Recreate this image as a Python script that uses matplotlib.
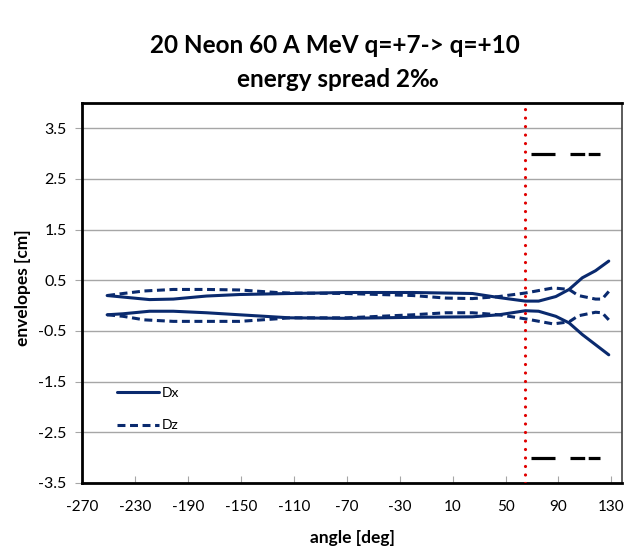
import matplotlib
matplotlib.use("Agg")
import matplotlib.pyplot as plt

# envelope data (angle in deg, envelope in cm)
angle_dx = [-251, -239, -219, -201, -176, -151, -113, -70, -20, 25, 45, 65, 75, 88, 98, 108, 118, 128]
dx_upper = [0.20, 0.17, 0.12, 0.13, 0.19, 0.22, 0.24, 0.26, 0.26, 0.24, 0.16, 0.09, 0.09, 0.18, 0.32, 0.55, 0.69, 0.88]
dx_lower = [-0.18, -0.16, -0.11, -0.11, -0.14, -0.18, -0.24, -0.25, -0.23, -0.22, -0.18, -0.10, -0.11, -0.21, -0.34, -0.57, -0.77, -0.97]

angle_dz = [-251, -239, -223, -201, -176, -151, -123, -113, -70, -20, 5, 25, 45, 65, 86, 98, 105, 118, 123, 128]
dz_upper = [0.20, 0.24, 0.29, 0.32, 0.32, 0.31, 0.26, 0.25, 0.24, 0.20, 0.15, 0.14, 0.18, 0.25, 0.35, 0.32, 0.20, 0.13, 0.13, 0.28]
dz_lower = [-0.18, -0.21, -0.28, -0.31, -0.31, -0.31, -0.26, -0.24, -0.24, -0.18, -0.14, -0.14, -0.18, -0.26, -0.36, -0.32, -0.20, -0.13, -0.14, -0.28]

# aperture marks at +/-3 cm
mark_solid_x = [69, 87]
mark_dash_x = [99, 121]
mark_levels = [3.0, -3.0]

stripper_angle = 65

x_ticks = list(range(-270, 131, 40))
y_ticks = [3.5, 2.5, 1.5, 0.5, -0.5, -1.5, -2.5, -3.5]

NAVY = '#0a2a6e'
FONT = 'Lato'

fig = plt.figure(figsize=(6.25, 5.5), dpi=100)
ax = fig.add_axes([82 / 625, 1 - 483 / 550, (622 - 82) / 625, (483 - 103) / 550])

# grid
for y in y_ticks:
    ax.axhline(y, color='#a6a6a6', lw=1.0, zorder=0)

ax.plot(angle_dx, dx_upper, color=NAVY, lw=2.2, label='Dx', solid_capstyle='round')
ax.plot(angle_dx, dx_lower, color=NAVY, lw=2.2, solid_capstyle='round')
ax.plot(angle_dz, dz_upper, color=NAVY, lw=2.2, dashes=[2.6, 1.5], label='Dz')
ax.plot(angle_dz, dz_lower, color=NAVY, lw=2.2, dashes=[2.6, 1.5])

for lev in mark_levels:
    ax.plot(mark_solid_x, [lev, lev], color='black', lw=2.3, solid_capstyle='butt')
    ax.plot(mark_dash_x, [lev, lev], color='black', lw=2.3, dashes=[4.6, 1.1], dash_capstyle='butt')

ax.axvline(stripper_angle, color='#e00000', lw=2.3, linestyle=(0, (0.01, 2.65)),
           dash_capstyle='round', zorder=5)

ax.set_xlim(-270, 138)
ax.set_ylim(-3.5, 4.0)
ax.set_xticks(x_ticks)
ax.set_yticks(y_ticks)
ax.set_xticklabels([str(v) for v in x_ticks], fontsize=11, family=FONT)
ax.set_yticklabels([str(v) for v in y_ticks], fontsize=11.5, family=FONT)
ax.tick_params(axis='x', direction='in', length=5, color='#a6a6a6', pad=12)
ax.tick_params(axis='y', direction='out', length=5, color='#a6a6a6', pad=6)

for side in ['top', 'left', 'bottom']:
    ax.spines[side].set_linewidth(2.0)
    ax.spines[side].set_color('black')
ax.spines['right'].set_linewidth(1.2)
ax.spines['right'].set_color('#404040')

ax.set_xlabel('angle [deg]', fontsize=12.5, fontweight='bold', family=FONT, labelpad=12)
ax.set_ylabel('envelopes [cm]', fontsize=12.5, fontweight='bold', family=FONT)
ax.yaxis.set_label_coords(-0.095, 0.515)

fig.text(0.536, 0.918, '20 Neon 60 A MeV q=+7-> q=+10', ha='center', va='center',
         fontsize=17.5, fontweight='bold', family=FONT)
fig.text(0.541, 0.855, 'energy spread 2\u2030', ha='center', va='center',
         fontsize=17.5, fontweight='bold', family=FONT)

ax.legend(loc='upper left', bbox_to_anchor=(0.065, 0.252), frameon=False,
          prop={'family': FONT, 'size': 10}, handlelength=3.0,
          handletextpad=0.2, labelspacing=1.45, borderpad=0, borderaxespad=0)

fig.savefig('out.png', dpi=100)
